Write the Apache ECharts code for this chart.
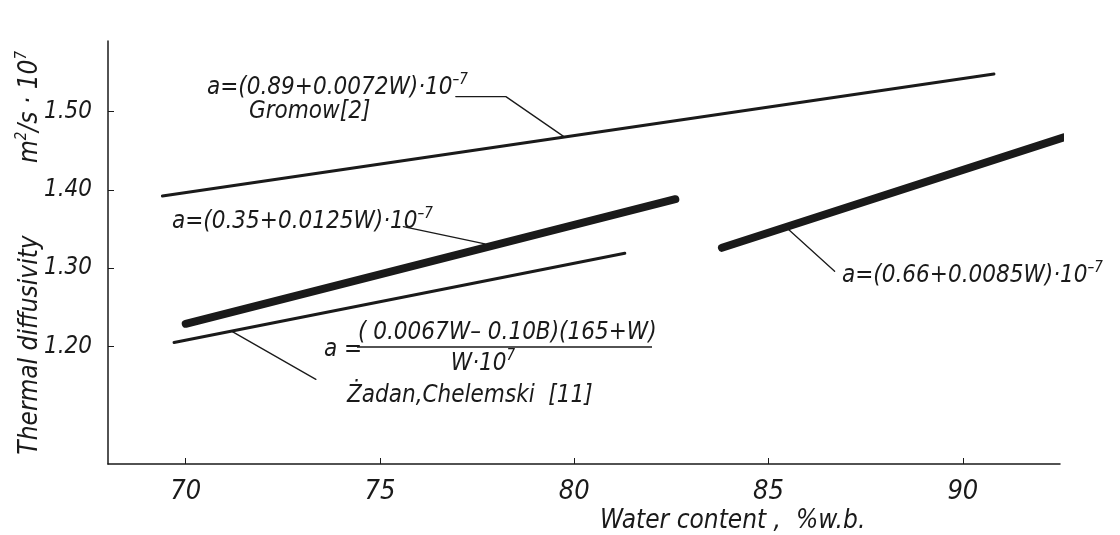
<!DOCTYPE html>
<html>
<head>
<meta charset="utf-8">
<script src="https://cdn.jsdelivr.net/npm/echarts@6/dist/echarts.min.js"></script>
<style>
  html, body { margin: 0; padding: 0; background: #fff; }
  #chart { width: 1120px; height: 535px; }
</style>
</head>
<body>
<div id="chart"></div>
<script>
// tick values
const xTicks = [70, 75, 80, 85, 90];
const yTicks = [1.2, 1.3, 1.4, 1.5];

// lines: [water content %, diffusivity]
const gromowW = [69.4, 90.8];
const gromowA = [1.392, 1.548];
const lineAW = [70.0, 82.6];      // a=(0.35+0.0125W)
const lineAA = [1.229, 1.388];
const zadanW = [69.7, 81.3];
const zadanA = [1.205, 1.319];
const lineBW = [83.8, 92.6];      // a=(0.66+0.0085W)
const lineBA = [1.326, 1.467];

// leader lines from labels to curves
const gromowLeader = [[76.95, 1.519], [78.24, 1.519], [79.76, 1.467]];
const lineALeader = [[75.6, 1.353], [77.7, 1.331]];
const zadanLeader = [[71.2, 1.219], [73.35, 1.158]];
const lineBLeader = [[85.5, 1.35], [86.7, 1.296]];

const FONT = "'DejaVu Sans Condensed', 'DejaVu Sans', sans-serif";
const INK = "#1a1a1a";

const pair = (xs, ys) => xs.map((x, i) => [x, ys[i]]);

const curve = (data, width) => ({
  type: "line",
  data,
  symbol: "none",
  clip: false,
  silent: true,
  lineStyle: { color: INK, width, cap: "round" },
});

const sup = {
  fontSize: 15,
  fontStyle: "italic",
  fontFamily: FONT,
  fill: INK,
  verticalAlign: "top",
  lineHeight: 30,
};

const txt = (text, x, y, size, extra) => ({
  type: "text",
  x, y,
  silent: true,
  style: Object.assign({
    text,
    fill: INK,
    font: "italic " + size + "px " + FONT,
    textVerticalAlign: "middle",
    verticalAlign: "middle",
    rich: {
      s: sup,
    },
  }, extra || {}),
});

const chart = echarts.init(document.getElementById("chart"));
chart.setOption({
  animation: false,
  backgroundColor: "#fff",
  grid: { left: 108, right: 60, top: 41, bottom: 71 },
  xAxis: {
    type: "value",
    min: 68,
    max: 92.5,
    splitLine: { show: false },
    axisLine: { show: true, lineStyle: { color: INK, width: 1.5 } },
    axisTick: { show: true, inside: true, length: 6, customValues: xTicks, lineStyle: { color: INK } },
    axisLabel: {
      customValues: xTicks,
      color: INK,
      fontSize: 27,
      fontStyle: "italic",
      fontFamily: FONT,
      margin: 14,
    },
  },
  yAxis: {
    type: "value",
    min: 1.05,
    max: 1.59,
    splitLine: { show: false },
    axisLine: { show: true, lineStyle: { color: INK, width: 1.5 } },
    axisTick: { show: true, inside: true, length: 6, customValues: yTicks, lineStyle: { color: INK } },
    axisLabel: {
      customValues: yTicks,
      formatter: (v) => v.toFixed(2),
      color: INK,
      fontSize: 24,
      fontStyle: "italic",
      fontFamily: FONT,
      margin: 16,
    },
  },
  series: [
    curve(pair(gromowW, gromowA), 3),
    curve(pair(lineAW, lineAA), 8),
    curve(pair(zadanW, zadanA), 3),
    curve(pair(lineBW, lineBA), 8),
    curve(gromowLeader, 1.3),
    curve(lineALeader, 1.3),
    curve(zadanLeader, 1.3),
    curve(lineBLeader, 1.3),
  ],
  graphic: [
    txt("a=(0.89+0.0072W)·10{s|–7}", 207, 88, 24),
    txt("Gromow[2]", 249, 112, 24),
    txt("a=(0.35+0.0125W)·10{s|–7}", 172, 222, 24),
    txt("a =", 324, 350, 24),
    txt("( 0.0067W– 0.10B)(165+W)", 358, 333, 24),
    {
      type: "line",
      silent: true,
      shape: { x1: 357, y1: 347, x2: 652, y2: 347 },
      style: { stroke: INK, lineWidth: 1.5 },
    },
    txt("W·10{s|7}", 483, 364, 24, { textAlign: "center", align: "center" }),
    txt("Żadan,Chelemski  [11]", 347, 396, 24),
    txt("a=(0.66+0.0085W)·10{s|–7}", 842, 276, 24),
    txt("Water content ,  %w.b.", 600, 521, 26),
    Object.assign(txt("Thermal diffusivity", 30, 345, 26, { textAlign: "center", align: "center" }), { rotation: Math.PI / 2 }),
    Object.assign(txt("m{s|2}/s · 10{s|7}", 30, 107, 26, { textAlign: "center", align: "center" }), { rotation: Math.PI / 2 }),
  ],
});
</script>
</body>
</html>
